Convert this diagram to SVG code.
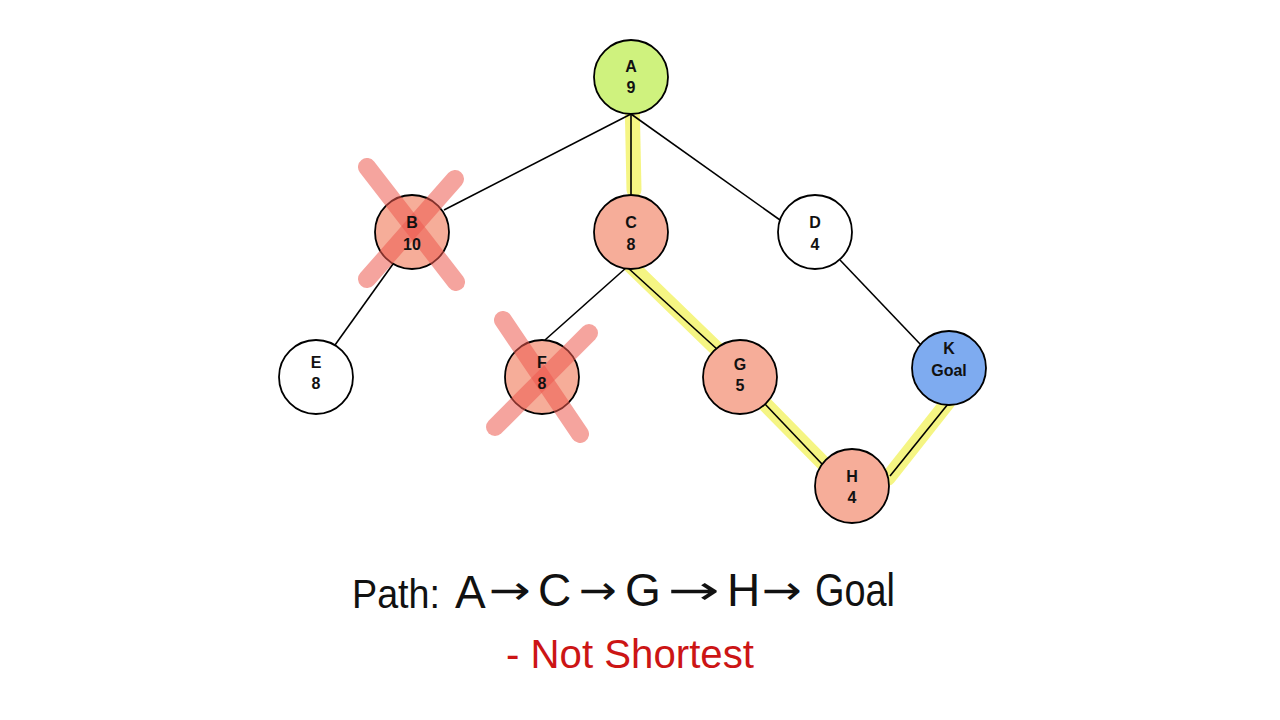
<svg xmlns="http://www.w3.org/2000/svg" width="1280" height="720" viewBox="0 0 1280 720">
<style>
.edge{stroke:#000;stroke-width:1.6;fill:none}
.hl{stroke:#f2f25a;stroke-width:15;stroke-linecap:round;fill:none;opacity:0.75}
.node{stroke:#000;stroke-width:1.8}
.lbl{font-family:"Liberation Sans",Arial,sans-serif;font-weight:bold;font-size:16px;fill:#111;text-anchor:middle}
.x{stroke:#ee5a50;stroke-width:18;stroke-linecap:round;opacity:0.55}
.hand{font-family:"Liberation Sans",Arial,sans-serif;font-size:46px;fill:#111}
.arr{font-family:"DejaVu Sans",sans-serif;font-size:40px;fill:#111}
.red{font-family:"Liberation Sans",Arial,sans-serif;font-size:40px;fill:#cc1515}
</style>
<rect width="1280" height="720" fill="#fff"/>
<g id="highlights">
<path class="hl" d="M632 96 L634 190"/>
<path class="hl" d="M627 262 L720 352"/>
<path class="hl" d="M763 402 L828 468"/>
<path class="hl" d="M888 478 L948 402"/>
</g>
<g id="connectors">
<line class="edge" x1="631" y1="114" x2="444" y2="210"/>
<line class="edge" x1="631" y1="114" x2="631" y2="195"/>
<line class="edge" x1="631" y1="114" x2="780" y2="220"/>
<line class="edge" x1="393" y1="264" x2="335" y2="345"/>
<line class="edge" x1="627" y1="267" x2="545" y2="340"/>
<line class="edge" x1="627" y1="267" x2="718" y2="350"/>
<line class="edge" x1="840" y1="260" x2="921" y2="345"/>
<line class="edge" x1="764" y1="403" x2="822" y2="464"/>
<line class="edge" x1="890" y1="476" x2="948" y2="404"/>
</g>
<g id="node-A"><circle class="node" cx="631" cy="77" r="37" fill="#cff27e"/><text class="lbl" x="631" y="72">A</text><text class="lbl" x="631" y="93">9</text></g>
<g id="node-B"><circle class="node" cx="412" cy="232" r="37" fill="#f6ad99"/>
<line class="x" x1="367" y1="167" x2="456" y2="282"/>
<line class="x" x1="455" y1="179" x2="367" y2="279"/>
<text class="lbl" x="412" y="228">B</text><text class="lbl" x="412" y="250">10</text></g>
<g id="node-C"><circle class="node" cx="631" cy="232" r="37" fill="#f6ad99"/><text class="lbl" x="631" y="228">C</text><text class="lbl" x="631" y="250">8</text></g>
<g id="node-D"><circle class="node" cx="815" cy="232" r="37" fill="#fff"/><text class="lbl" x="815" y="228">D</text><text class="lbl" x="815" y="250">4</text></g>
<g id="node-E"><circle class="node" cx="316" cy="377" r="37" fill="#fff"/><text class="lbl" x="316" y="368">E</text><text class="lbl" x="316" y="389">8</text></g>
<g id="node-F"><circle class="node" cx="542" cy="377" r="37" fill="#f6ad99"/>
<line class="x" x1="503" y1="320" x2="580" y2="434"/>
<line class="x" x1="589" y1="333" x2="495" y2="427"/>
<text class="lbl" x="542" y="368">F</text><text class="lbl" x="542" y="389">8</text></g>
<g id="node-G"><circle class="node" cx="740" cy="377" r="37" fill="#f6ad99"/><text class="lbl" x="740" y="370">G</text><text class="lbl" x="740" y="391">5</text></g>
<g id="node-H"><circle class="node" cx="852" cy="486" r="37" fill="#f6ad99"/><text class="lbl" x="852" y="482">H</text><text class="lbl" x="852" y="503">4</text></g>
<g id="node-K"><circle class="node" cx="949" cy="368" r="37" fill="#7eabf0"/><text class="lbl" x="949" y="354">K</text><text class="lbl" x="949" y="376">Goal</text></g>
<g id="path-text">
<text class="hand" x="352" y="608" style="font-size:41px" textLength="88" lengthAdjust="spacingAndGlyphs">Path:</text>
<text class="hand" x="455" y="608">A</text>
<text class="arr" x="489" y="604" textLength="42" lengthAdjust="spacingAndGlyphs">→</text>
<text class="hand" x="538" y="606">C</text>
<text class="arr" x="579" y="604" textLength="38" lengthAdjust="spacingAndGlyphs">→</text>
<text class="hand" x="625" y="606">G</text>
<text class="arr" x="668" y="604" textLength="52" lengthAdjust="spacingAndGlyphs">→</text>
<text class="hand" x="727" y="606">H</text>
<text class="arr" x="762" y="604" textLength="40" lengthAdjust="spacingAndGlyphs">→</text>
<text class="hand" x="815" y="606" textLength="80" lengthAdjust="spacingAndGlyphs">Goal</text>
<text class="red" x="506" y="668" textLength="248" lengthAdjust="spacingAndGlyphs">- Not Shortest</text>
</g>
</svg>
